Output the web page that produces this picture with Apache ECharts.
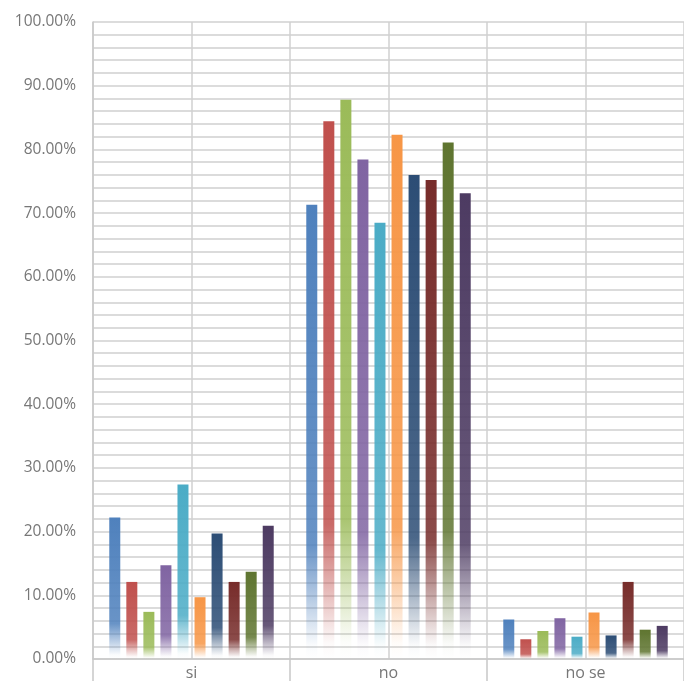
<!DOCTYPE html>
<html>
<head>
<meta charset="utf-8">
<script src="https://cdn.jsdelivr.net/npm/echarts@6/dist/echarts.min.js"></script>
<style>html,body{margin:0;padding:0;background:#fff}#c{width:684px;height:681px}</style>
</head>
<body>
<div id="c"></div>
<script>
const categories = ['si', 'no', 'no se'];
const s1 = [0.222, 0.713, 0.062];
const s2 = [0.121, 0.844, 0.031];
const s3 = [0.074, 0.878, 0.044];
const s4 = [0.147, 0.784, 0.064];
const s5 = [0.274, 0.685, 0.035];
const s6 = [0.097, 0.823, 0.073];
const s7 = [0.197, 0.760, 0.037];
const s8 = [0.121, 0.752, 0.121];
const s9 = [0.137, 0.811, 0.046];
const s10 = [0.209, 0.731, 0.052];
const seriesValues = [s1, s2, s3, s4, s5, s6, s7, s8, s9, s10];
const colors = ['#4F81BD', '#C0504D', '#9BBB59', '#8064A2', '#4BACC6', '#F79646', '#2C4D75', '#772C2A', '#5F7530', '#4D3B62'];
const yTicks = [0, 0.1, 0.2, 0.3, 0.4, 0.5, 0.6, 0.7, 0.8, 0.9, 1];

function hexA(h, a) {
  const r = parseInt(h.slice(1, 3), 16), g = parseInt(h.slice(3, 5), 16), b = parseInt(h.slice(5, 7), 16);
  return 'rgba(' + r + ',' + g + ',' + b + ',' + a + ')';
}

const chart = echarts.init(document.getElementById('c'));
chart.setOption({
  animation: false,
  backgroundColor: '#fff',
  grid: { left: 93, top: 22, width: 596, height: 637 },
  xAxis: [
    {
      type: 'category',
      data: categories,
      axisLine: { show: true, lineStyle: { color: '#c8c8c8', width: 1.5 } },
      axisTick: { show: true, interval: 0, length: 30, lineStyle: { color: '#c8c8c8', width: 1.5 } },
      axisLabel: { color: '#777', fontSize: 16, fontFamily: 'Open Sans', margin: 6 },
      splitLine: { show: false }
    },
    {
      type: 'value', min: 0, max: 6, interval: 1, position: 'bottom',
      axisLine: { show: false }, axisTick: { show: false }, axisLabel: { show: false },
      splitLine: { show: true, lineStyle: { color: '#d0d0d0', width: 1.5 } }
    }
  ],
  yAxis: {
    type: 'value', min: 0, max: 1, interval: 0.1,
    axisLine: { show: true, lineStyle: { color: '#c8c8c8', width: 1.5 } },
    axisTick: { show: false },
    axisLabel: {
      color: '#777', fontSize: 15.5, fontFamily: 'Open Sans', margin: 17,
      formatter: function (v) {
        let best = yTicks.reduce((p, t) => Math.abs(t - v) < Math.abs(p - v) ? t : p, yTicks[0]);
        return (best * 100).toFixed(2) + '%';
      }
    },
    splitLine: { show: true, lineStyle: { color: '#d0d0d0', width: 1.5 } },
    minorTick: { show: false, splitNumber: 5 },
    minorSplitLine: { show: true, lineStyle: { color: '#d0d0d0', width: 1.5 } }
  },
  series: seriesValues.map((vals, i) => ({
    type: 'bar',
    xAxisIndex: 0,
    data: vals,
    barWidth: 11,
    barGap: '55%',
    itemStyle: {
      color: {
        type: 'linear', x: 0, y: 0, x2: 0, y2: 1,
        colorStops: [
          { offset: 0, color: colors[i] },
          { offset: 0.75, color: hexA(colors[i], 0.85) },
          { offset: 0.97, color: hexA(colors[i], 0.03) },
          { offset: 1, color: hexA(colors[i], 0) }
        ]
      }
    }
  }))
});
</script>
</body>
</html>
